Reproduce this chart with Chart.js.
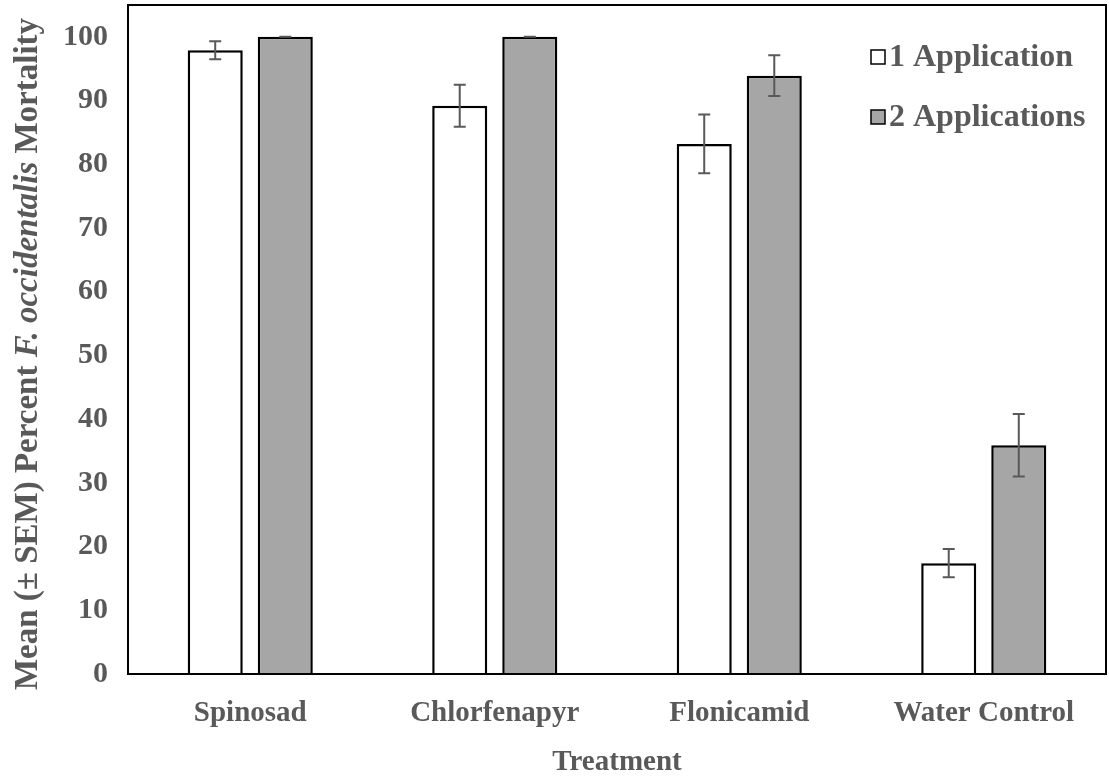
<!DOCTYPE html>
<html>
<head>
<meta charset="utf-8">
<script src="https://cdn.jsdelivr.net/npm/chart.js@4/dist/chart.umd.min.js"></script>
<style>
  html, body { margin: 0; padding: 0; background: #fff; }
  #wrap { width: 1109px; height: 780px; }
</style>
</head>
<body>
<div id="wrap"><canvas id="mortalityChart"></canvas></div>
<script>
// Data
const treatments = ["Spinosad", "Chlorfenapyr", "Flonicamid", "Water Control"];
const oneApplication = [97.9, 89.2, 83.2, 17.4];
const oneApplicationSem = [1.4, 3.3, 4.6, 2.2];
const twoApplications = [100, 100, 93.9, 35.9];
const twoApplicationsSem = [0, 0, 3.2, 4.9];
const yTicks = [0, 10, 20, 30, 40, 50, 60, 70, 80, 90, 100];

const textColor = "#595959";
const serif = "'Liberation Serif', 'Times New Roman', serif";

// error bars from the sem arrays, positioned by the scales
const errorBars = {
  id: "errorBars",
  afterDatasetsDraw(chart) {
    const ctx = chart.ctx;
    const y = chart.scales.y;
    ctx.save();
    ctx.strokeStyle = "#595959";
    ctx.lineWidth = 2;
    chart.data.datasets.forEach((ds, i) => {
      const meta = chart.getDatasetMeta(i);
      meta.data.forEach((bar, j) => {
        const v = ds.data[j];
        const e = ds.sem[j];
        const top = y.getPixelForValue(v + e);
        const bot = y.getPixelForValue(v - e);
        ctx.beginPath();
        ctx.moveTo(bar.x, top);
        ctx.lineTo(bar.x, bot);
        ctx.moveTo(bar.x - 6, top);
        ctx.lineTo(bar.x + 6, top);
        ctx.moveTo(bar.x - 6, bot);
        ctx.lineTo(bar.x + 6, bot);
        ctx.stroke();
      });
    });
    ctx.restore();
  }
};

// frame, legend and y title with the italic species name
const decorations = {
  id: "decorations",
  afterDraw(chart) {
    const ctx = chart.ctx;
    const a = chart.chartArea;
    ctx.save();
    ctx.strokeStyle = "#000";
    ctx.lineWidth = 2;
    ctx.strokeRect(a.left, a.top, a.right - a.left, a.bottom - a.top);

    // legend
    ctx.font = "bold 32px " + serif;
    ctx.textBaseline = "middle";
    chart.data.datasets.forEach((ds, i) => {
      const ly = 57 + i * 60;
      ctx.fillStyle = ds.backgroundColor;
      ctx.fillRect(871, ly - 7, 14, 14);
      ctx.strokeStyle = "#000";
      ctx.lineWidth = 1.5;
      ctx.strokeRect(871, ly - 7, 14, 14);
      ctx.fillStyle = textColor;
      ctx.fillText(ds.label, 889, ly + 1);
    });

    // y axis title
    const parts = [
      ["Mean (± SEM) Percent ", "bold"],
      ["F. occidentalis", "italic bold"],
      [" Mortality", "bold"]
    ];
    const size = 33;
    let total = 0;
    parts.forEach(p => {
      ctx.font = p[1] + " " + size + "px " + serif;
      total += ctx.measureText(p[0]).width;
    });
    ctx.translate(28, 354);
    ctx.rotate(-Math.PI / 2);
    let x = -total / 2;
    ctx.textBaseline = "middle";
    ctx.textAlign = "left";
    ctx.fillStyle = textColor;
    parts.forEach(p => {
      ctx.font = p[1] + " " + size + "px " + serif;
      ctx.fillText(p[0], x, 0);
      x += ctx.measureText(p[0]).width;
    });
    ctx.restore();
  }
};

const ctx = document.getElementById("mortalityChart").getContext("2d");
const mortalityChart = new Chart(ctx, {
  type: "bar",
  data: {
    labels: treatments,
    datasets: [
      {
        label: "1 Application",
        data: oneApplication,
        sem: oneApplicationSem,
        backgroundColor: "#ffffff",
        borderColor: "#000000",
        borderWidth: 2.5
      },
      {
        label: "2 Applications",
        data: twoApplications,
        sem: twoApplicationsSem,
        backgroundColor: "#a6a6a6",
        borderColor: "#000000",
        borderWidth: 2.5
      }
    ]
  },
  options: {
    responsive: true,
    maintainAspectRatio: false,
    animation: false,
    categoryPercentage: 0.573,
    barPercentage: 0.786,
    layout: { padding: { top: 5, right: 3, left: 0, bottom: 0 } },
    plugins: {
      legend: { display: false },
      tooltip: { enabled: false }
    },
    scales: {
      x: {
        grid: { display: false, drawTicks: false },
        border: { display: false },
        ticks: {
          color: textColor,
          padding: 22,
          font: { family: serif, size: 29, weight: "bold" }
        },
        title: {
          display: true,
          text: "Treatment",
          color: textColor,
          padding: { top: 0, bottom: 0 },
          font: { family: serif, size: 29, weight: "bold" }
        },
        afterFit(scale) {
          scale.height = 106;
          scale.paddingLeft = 0;
          scale.paddingRight = 0;
        }
      },
      y: {
        min: 0,
        max: 105,
        grid: { display: false, drawTicks: false },
        border: { display: false },
        afterBuildTicks(scale) {
          scale.ticks = yTicks.map(v => ({ value: v }));
        },
        ticks: {
          color: textColor,
          padding: 20,
          font: { family: serif, size: 30, weight: "bold" }
        },
        afterFit(scale) {
          scale.width = 128;
          scale.paddingTop = 0;
          scale.paddingBottom = 0;
        }
      }
    }
  },
  plugins: [errorBars, decorations]
});
</script>
</body>
</html>
